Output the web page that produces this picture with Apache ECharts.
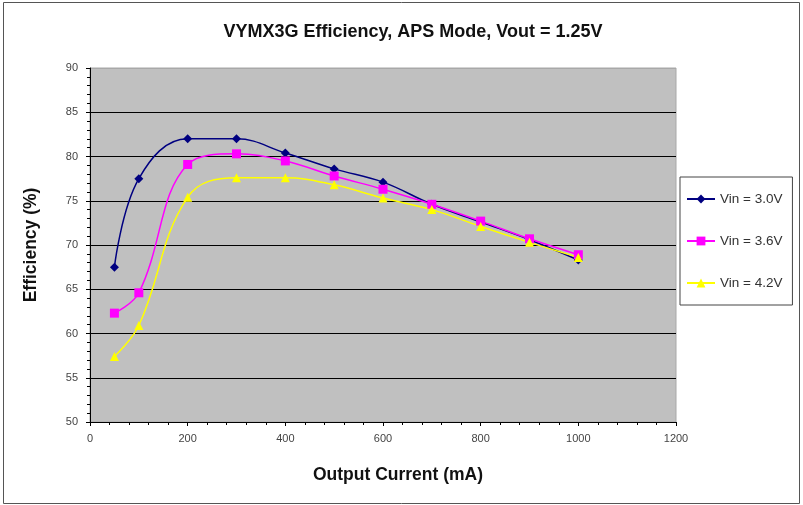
<!DOCTYPE html>
<html><head><meta charset="utf-8">
<script src="https://cdn.jsdelivr.net/npm/echarts@6/dist/echarts.min.js"></script>
<style>html,body{margin:0;padding:0;background:#fff}#c{width:803px;height:505px}</style>
</head><body><div id="c"></div>
<script>
const current = [50, 100, 200, 300, 400, 500, 600, 700, 800, 900, 1000];
const vin30 = [67.5, 77.5, 82.0, 82.0, 80.4, 78.6, 77.1, 74.6, 72.6, 70.6, 68.3];
const vin36 = [62.3, 64.6, 79.1, 80.3, 79.5, 77.8, 76.3, 74.6, 72.7, 70.7, 68.9];
const vin42 = [57.4, 60.9, 75.4, 77.6, 77.6, 76.8, 75.3, 74.0, 72.1, 70.3, 68.6];
const seriesNames = ['Vin = 3.0V', 'Vin = 3.6V', 'Vin = 4.2V'];
const pair = (xs, ys) => xs.map((x, i) => [x, ys[i]]);

const chart = echarts.init(document.getElementById('c'), null, {renderer: 'canvas'});
const font = 'Arial, "Liberation Sans", sans-serif';
function mk(name, data, color, symbol, size) {
  return {
    name, type: 'line', data, smooth: 0.4, symbol, symbolSize: size,
    lineStyle: {color, width: 1.5}, itemStyle: {color, borderWidth: 0}, z: 3
  };
}
chart.setOption({
  animation: false,
  backgroundColor: '#fff',
  title: {
    text: 'VYMX3G Efficiency, APS Mode, Vout = 1.25V',
    left: 408, textAlign: 'center', top: 18,
    textStyle: {fontFamily: font, fontSize: 18, fontWeight: 'bold', color: '#111'}
  },
  grid: {left: 90, right: 127, top: 68, bottom: 83, show: true, backgroundColor: '#c0c0c0', borderColor: '#a8a8a8', borderWidth: 1},
  legend: {
    orient: 'vertical', left: 680, top: 177, width: 116, height: 127,
    padding: [15, 10, 15, 6], itemGap: 28, itemWidth: 28, itemHeight: 11,
    backgroundColor: '#fff', borderColor: '#444', borderWidth: 1,
    textStyle: {fontFamily: font, fontSize: 13.5, color: '#333'},
    data: seriesNames
  },
  xAxis: {
    type: 'value', min: 0, max: 1200, interval: 200,
    name: 'Output Current (mA)', nameLocation: 'middle', nameGap: 44,
    nameTextStyle: {fontFamily: font, fontSize: 17.5, fontWeight: 'bold', color: '#111', padding: [0, 0, 0, 30]},
    axisLine: {show: true, lineStyle: {color: '#000', width: 1}},
    axisTick: {show: true, length: 4, lineStyle: {color: '#000'}},
    minorTick: {show: true, splitNumber: 5, length: 3, lineStyle: {color: '#000'}},
    axisLabel: {fontFamily: font, fontSize: 11, color: '#444', margin: 11, formatter: v => String(v)},
    splitLine: {show: false}
  },
  yAxis: {
    type: 'value', min: 50, max: 90, interval: 5,
    name: 'Efficiency (%)', nameLocation: 'middle', nameGap: 50, nameRotate: 90,
    nameTextStyle: {fontFamily: font, fontSize: 17.5, fontWeight: 'bold', color: '#111'},
    axisLine: {show: true, lineStyle: {color: '#000', width: 1}},
    axisTick: {show: true, length: 4, lineStyle: {color: '#000'}},
    minorTick: {show: true, splitNumber: 5, length: 3, lineStyle: {color: '#000'}},
    axisLabel: {fontFamily: font, fontSize: 11, color: '#444', margin: 12},
    splitLine: {show: true, lineStyle: {color: ['#000', '#000', '#000', '#000', '#000', '#000', '#000', '#000', '#a8a8a8'], width: 1.2}}
  },
  graphic: [{
    type: 'rect', shape: {x: 3.5, y: 2.5, width: 796, height: 501},
    style: {fill: 'none', stroke: '#555', lineWidth: 1}, silent: true, z: -1
  }],
  series: [
    mk(seriesNames[0], pair(current, vin30), '#000080', 'diamond', 9),
    mk(seriesNames[1], pair(current, vin36), '#ff00ff', 'rect', 9),
    mk(seriesNames[2], pair(current, vin42), '#ffff00', 'triangle', 9)
  ]
});
</script></body></html>
